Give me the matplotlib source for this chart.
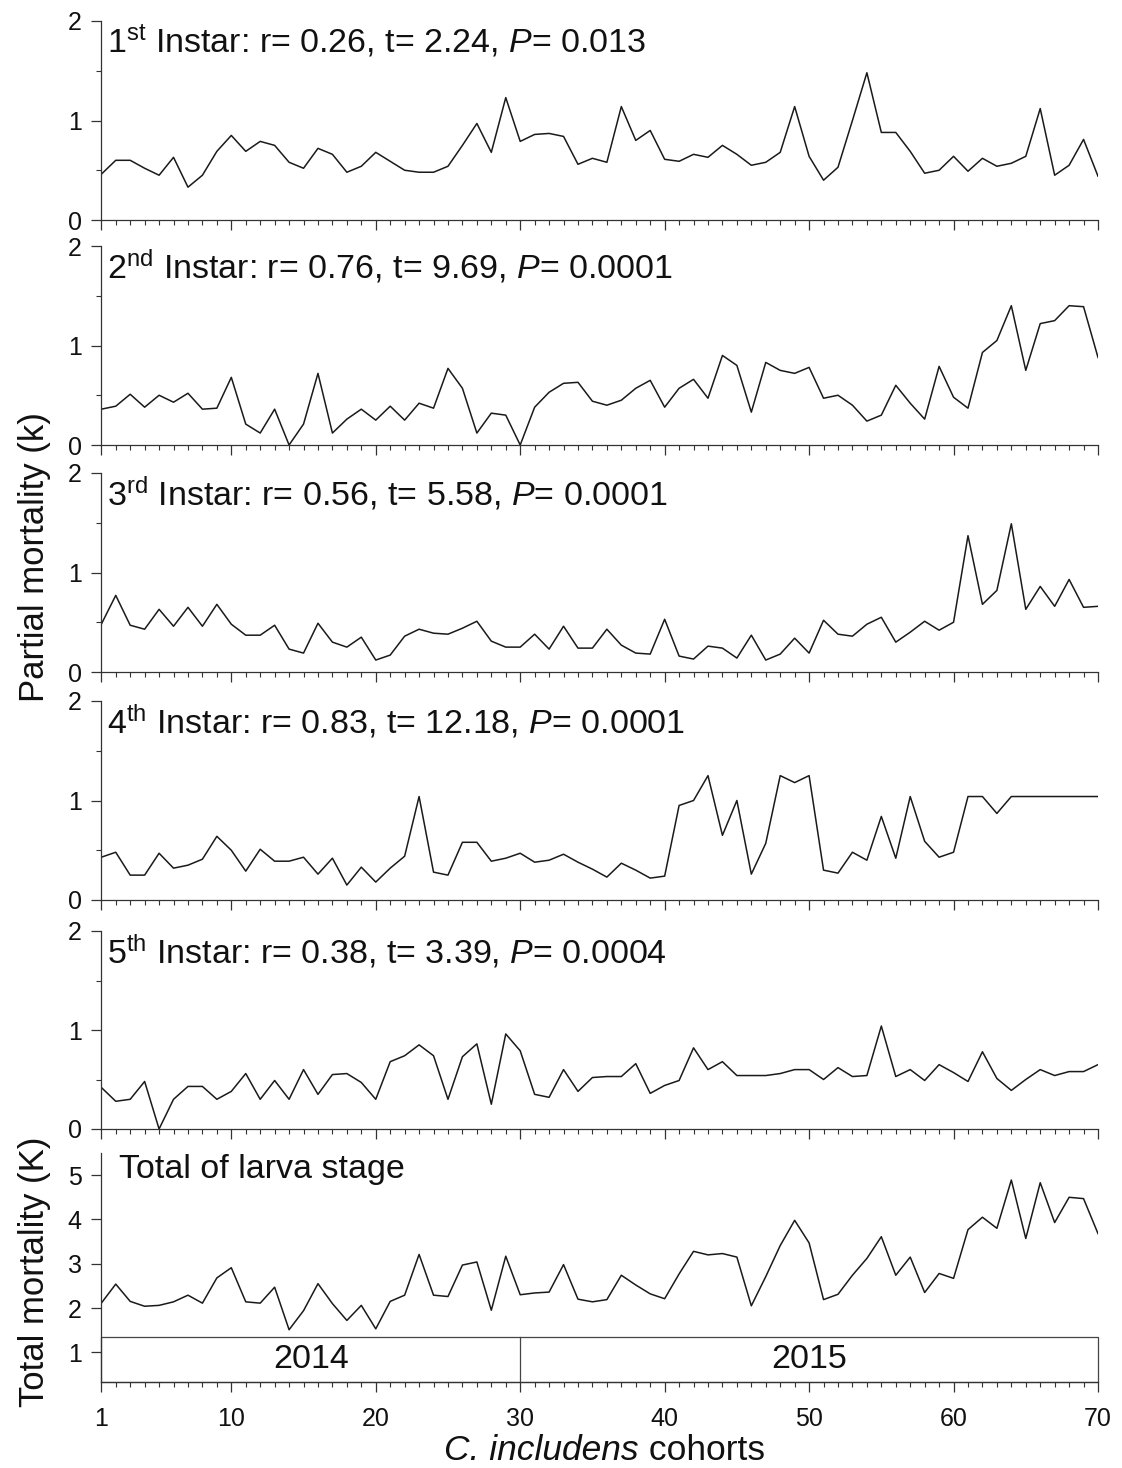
import matplotlib
matplotlib.use('Agg')
import matplotlib.pyplot as plt
from matplotlib.ticker import FixedLocator, MultipleLocator
from matplotlib.patches import Rectangle
import numpy as np

plt.rcParams['font.family'] = ['Liberation Sans', 'DejaVu Sans']
plt.rcParams['mathtext.fontset'] = 'custom'
plt.rcParams['mathtext.rm'] = 'Liberation Sans'
plt.rcParams['mathtext.it'] = 'Liberation Sans:italic'
plt.rcParams['mathtext.bf'] = 'Liberation Sans:bold'

# ---------------- data ----------------
cohorts = np.arange(1, 71)

k1 = [0.46, 0.60, 0.60, 0.52, 0.45, 0.63, 0.33, 0.45, 0.69, 0.85,
      0.69, 0.79, 0.75, 0.58, 0.52, 0.72, 0.66, 0.48, 0.54, 0.68,
      0.59, 0.50, 0.48, 0.48, 0.54, 0.75, 0.97, 0.68, 1.23, 0.79,
      0.86, 0.87, 0.84, 0.56, 0.62, 0.58, 1.14, 0.80, 0.90, 0.61,
      0.59, 0.66, 0.63, 0.75, 0.66, 0.55, 0.58, 0.68, 1.14, 0.64,
      0.40, 0.53, 1.00, 1.48, 0.88, 0.88, 0.69, 0.47, 0.50, 0.64,
      0.49, 0.62, 0.54, 0.57, 0.64, 1.12, 0.45, 0.55, 0.81, 0.44]

k2 = [0.36, 0.39, 0.51, 0.38, 0.50, 0.43, 0.52, 0.36, 0.37, 0.68,
      0.21, 0.12, 0.36, 0.00, 0.21, 0.72, 0.12, 0.26, 0.36, 0.25,
      0.39, 0.25, 0.42, 0.37, 0.77, 0.57, 0.12, 0.32, 0.30, 0.00,
      0.38, 0.53, 0.62, 0.63, 0.44, 0.40, 0.45, 0.57, 0.65, 0.38,
      0.57, 0.66, 0.47, 0.90, 0.80, 0.33, 0.83, 0.75, 0.72, 0.78,
      0.47, 0.50, 0.40, 0.24, 0.30, 0.60, 0.42, 0.26, 0.79, 0.48,
      0.37, 0.93, 1.05, 1.40, 0.75, 1.22, 1.25, 1.40, 1.39, 0.88]

k3 = [0.48, 0.77, 0.47, 0.43, 0.63, 0.46, 0.65, 0.46, 0.68, 0.48,
      0.37, 0.37, 0.47, 0.23, 0.19, 0.49, 0.30, 0.25, 0.35, 0.12,
      0.17, 0.36, 0.43, 0.39, 0.38, 0.44, 0.51, 0.31, 0.25, 0.25,
      0.38, 0.23, 0.46, 0.24, 0.24, 0.43, 0.27, 0.19, 0.18, 0.53,
      0.16, 0.13, 0.26, 0.24, 0.14, 0.37, 0.12, 0.18, 0.34, 0.19,
      0.52, 0.38, 0.36, 0.48, 0.55, 0.30, 0.40, 0.51, 0.42, 0.50,
      1.37, 0.68, 0.82, 1.49, 0.63, 0.86, 0.66, 0.93, 0.65, 0.66]

k4 = [0.43, 0.48, 0.25, 0.25, 0.47, 0.32, 0.35, 0.41, 0.64, 0.50,
      0.29, 0.51, 0.39, 0.39, 0.43, 0.26, 0.42, 0.15, 0.33, 0.18,
      0.32, 0.44, 1.04, 0.28, 0.25, 0.58, 0.58, 0.39, 0.42, 0.47,
      0.38, 0.40, 0.46, 0.38, 0.31, 0.23, 0.37, 0.30, 0.22, 0.24,
      0.95, 1.00, 1.25, 0.65, 1.00, 0.26, 0.57, 1.25, 1.18, 1.25,
      0.30, 0.27, 0.48, 0.40, 0.84, 0.42, 1.04, 0.59, 0.43, 0.48,
      1.04, 1.04, 0.87, 1.04, 1.04, 1.04, 1.04, 1.04, 1.04, 1.04]

k5 = [0.42, 0.28, 0.30, 0.48, 0.00, 0.30, 0.43, 0.43, 0.30, 0.38,
      0.56, 0.30, 0.49, 0.30, 0.60, 0.35, 0.55, 0.56, 0.47, 0.30,
      0.68, 0.74, 0.85, 0.74, 0.30, 0.73, 0.86, 0.25, 0.96, 0.79,
      0.35, 0.32, 0.60, 0.38, 0.52, 0.53, 0.53, 0.66, 0.36, 0.44,
      0.49, 0.82, 0.60, 0.68, 0.54, 0.54, 0.54, 0.56, 0.60, 0.60,
      0.50, 0.62, 0.53, 0.54, 1.04, 0.53, 0.60, 0.49, 0.65, 0.57,
      0.48, 0.78, 0.51, 0.39, 0.50, 0.60, 0.54, 0.58, 0.58, 0.65]

total_K = [2.11, 2.54, 2.15, 2.04, 2.06, 2.14, 2.29, 2.11, 2.68, 2.91,
           2.14, 2.11, 2.47, 1.51, 1.94, 2.55, 2.10, 1.72, 2.06, 1.53,
           2.15, 2.29, 3.21, 2.29, 2.26, 2.97, 3.04, 1.95, 3.17, 2.30,
           2.34, 2.36, 2.98, 2.20, 2.14, 2.19, 2.74, 2.52, 2.32, 2.21,
           2.77, 3.28, 3.20, 3.23, 3.15, 2.05, 2.71, 3.41, 3.98, 3.47,
           2.19, 2.31, 2.74, 3.12, 3.61, 2.74, 3.15, 2.35, 2.78, 2.67,
           3.77, 4.05, 3.80, 4.89, 3.57, 4.83, 3.93, 4.50, 4.47, 3.68]

instar_num = ['1', '2', '3', '4', '5']
instar_sup = ['st', 'nd', 'rd', 'th', 'th']
r_vals = ['0.26', '0.76', '0.56', '0.83', '0.38']
t_vals = ['2.24', '9.69', '5.58', '12.18', '3.39']
p_vals = ['0.013', '0.0001', '0.0001', '0.0001', '0.0004']

x_tick_labels = [1, 10, 20, 30, 40, 50, 60, 70]
years = ['2014', '2015']
year_edges = [1, 30, 70]

# ---------------- layout ----------------
W, H = 1122, 1468
fig = plt.figure(figsize=(W / 100, H / 100), dpi=100)

x_left, x_right = 101.3, 1098.0
panel_px = [(21, 220), (246, 445), (473, 672), (701, 900), (931, 1129), (1153, 1382)]

axes = []
for (top, bot) in panel_px:
    ax = fig.add_axes([x_left / W, 1 - bot / H, (x_right - x_left) / W, (bot - top) / H])
    axes.append(ax)

line_kw = dict(color='#1a1a1a', lw=1.1)
series = [k1, k2, k3, k4, k5]
TXT = 24.5

def style(ax):
    for s in ['top', 'right']:
        ax.spines[s].set_visible(False)
    for s in ['left', 'bottom']:
        ax.spines[s].set_linewidth(0.9)
        ax.spines[s].set_color('#333333')
    ax.set_xlim(1, 70)
    ax.xaxis.set_major_locator(FixedLocator(x_tick_labels))
    ax.xaxis.set_minor_locator(MultipleLocator(1))
    ax.tick_params(axis='both', which='major', direction='out', length=7, width=0.9,
                   color='#333333', labelsize=18, pad=7, labelcolor='#111111')
    ax.tick_params(axis='both', which='minor', direction='out', length=3.5, width=0.8,
                   color='#333333')
    ax.tick_params(axis='x', which='major', pad=11)

for i, ax in enumerate(axes[:5]):
    ax.plot(cohorts, series[i], **line_kw)
    style(ax)
    ax.set_ylim(0, 2)
    ax.set_yticks([0, 1, 2])
    ax.yaxis.set_minor_locator(MultipleLocator(0.5))
    ax.set_xticklabels([])
    label = (rf'{instar_num[i]}$^{{\mathrm{{{instar_sup[i]}}}}}$ Instar: r= {r_vals[i]}, '
             rf't= {t_vals[i]}, $\mathit{{P}}$= {p_vals[i]}')
    ax.text(0.006, 0.839, label, transform=ax.transAxes, fontsize=TXT,
            va='baseline', ha='left', color='#111111')

ax6 = axes[5]
ax6.plot(cohorts, total_K, **line_kw)
style(ax6)
ybot, ytop = 0.33, 5.5
ax6.set_ylim(ybot, ytop)
ax6.set_yticks([1, 2, 3, 4, 5])
ax6.set_xticklabels([str(v) for v in x_tick_labels])
ax6.text(0.018, 0.893, 'Total of larva stage', transform=ax6.transAxes, fontsize=TXT,
         va='baseline', ha='left', color='#111111')

box_top = 1.35
ax6.add_patch(Rectangle((year_edges[0], ybot), year_edges[-1] - year_edges[0], box_top - ybot,
                        fill=False, edgecolor='#444444', lw=0.9, clip_on=False))
ax6.plot([year_edges[1], year_edges[1]], [ybot, box_top], color='#444444', lw=0.9)
for j, yr in enumerate(years):
    xc = (year_edges[j] + year_edges[j + 1]) / 2
    ax6.text(xc, (ybot + box_top) / 2, yr, ha='center', va='center', fontsize=TXT, color='#111111')

# x label: italic species name + regular word, centred as a whole
XL = 25.5
xl_base = 1 - 1460 / H
t_it = fig.text(0, xl_base, 'C. includens', fontsize=XL, fontstyle='italic',
                ha='left', va='baseline', color='#111111')
t_rm = fig.text(0, xl_base, ' cohorts', fontsize=XL, ha='left', va='baseline', color='#111111')
fig.canvas.draw()
r = fig.canvas.get_renderer()
w_it = t_it.get_window_extent(r).width / W
w_rm = t_rm.get_window_extent(r).width / W
xc = ((x_left + x_right) / 2 + 5) / W
x0 = xc - (w_it + w_rm) / 2
t_it.set_x(x0)
t_rm.set_x(x0 + w_it)

fig.text(35 / W, 1 - 557 / H, 'Partial mortality (k)', rotation=90, ha='center', va='center',
         fontsize=25, color='#111111')
fig.text(35 / W, 1 - 1272 / H, 'Total mortality (K)', rotation=90, ha='center', va='center',
         fontsize=25, color='#111111')

fig.savefig('out.png', dpi=100)
